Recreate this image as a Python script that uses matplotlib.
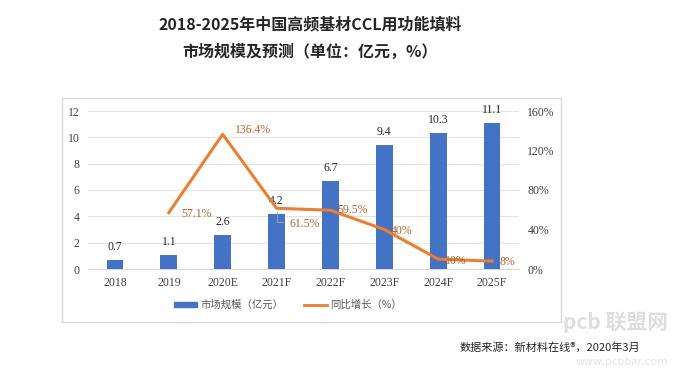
import matplotlib.pyplot as plt
from matplotlib.patches import Rectangle, Patch
from matplotlib.lines import Line2D

plt.rcParams['font.family'] = ['Noto Sans CJK SC', 'DejaVu Sans']

# Data
years = ['2018', '2019', '2020E', '2021F', '2022F', '2023F', '2024F', '2025F']
market = [0.7, 1.1, 2.6, 4.2, 6.7, 9.4, 10.3, 11.1]
growth = [None, 57.1, 136.4, 61.5, 59.5, 40, 10, 8]
growth_labels = ['', '57.1%', '136.4%', '61.5%', '59.5%', '40%', '10%', '8%']

W, H = 677, 371
fig = plt.figure(figsize=(W / 100, H / 100), dpi=100)

# chart frame
fig.patches.append(Rectangle((62 / W, 1 - 322 / H), (561 - 62) / W, (322 - 98) / H,
                             transform=fig.transFigure, fill=False,
                             edgecolor='#D9D9D9', linewidth=1))

ax = fig.add_axes([88 / W, 1 - 269 / H, (519 - 88) / W, (269 - 111) / H])
ax2 = ax.twinx()

x = list(range(len(years)))
serif = 'Liberation Serif'

ax.bar(x, market, width=0.31, color='#4472C4', zorder=3)
for xi, v in zip(x, market):
    ax.annotate(f'{v}', (xi, v), xytext=(0, 5), textcoords='offset points',
                ha='center', va='bottom', fontsize=8.5, family=serif, color='#262626')

ax.set_ylim(0, 12)
ax.set_yticks(range(0, 13, 2))
ax.set_xlim(-0.5, len(years) - 0.5)
ax.set_xticks(x)
ax.set_xticklabels(years, family=serif, fontsize=8.5, color='#404040')
ax.tick_params(axis='both', length=0, pad=6)
for lbl in ax.get_yticklabels():
    lbl.set_family(serif)
    lbl.set_fontsize(8.5)
    lbl.set_color('#404040')
ax.yaxis.grid(True, color='#E4E4E4', linewidth=0.8, zorder=0)
ax.set_axisbelow(True)
for s in ['top', 'right', 'left']:
    ax.spines[s].set_visible(False)
ax.spines['bottom'].set_color('#D9D9D9')

gx = [xi for xi, g in zip(x, growth) if g is not None]
gy = [g for g in growth if g is not None]
ax2.plot(gx, gy, color='#ED7D31', linewidth=2.2, zorder=4)
ax2.set_ylim(0, 160)
ax2.set_yticks(range(0, 161, 40))
ax2.set_yticklabels([f'{t}%' for t in range(0, 161, 40)], family=serif,
                    fontsize=8.5, color='#404040')
ax2.tick_params(axis='y', length=0, pad=6)
for s in ax2.spines.values():
    s.set_visible(False)

offsets = {1: (9, -1), 2: (9, 3), 3: (9, -11), 4: (5, 0), 5: (5, -1),
           6: (5, -1), 7: (5, -1)}
lab_color = '#B4612A'
for xi, g, t in zip(x, growth, growth_labels):
    if g is None:
        continue
    dx, dy = offsets[xi]
    ax2.annotate(t, (xi, g), xytext=(dx, dy), textcoords='offset points',
                 ha='left', va='center', fontsize=8.5, family=serif, color=lab_color,
                 zorder=5)
# leader line for 61.5%
ax2.annotate('', (3, 61.5), xytext=(3.17, 48), textcoords='data',
             arrowprops=dict(arrowstyle='-', color='#A6A6A6', linewidth=0.6,
                             connectionstyle='angle,angleA=0,angleB=90,rad=0'))

# titles
fig.text(310 / W, 1 - 24 / H, '2018-2025年中国高频基材CCL用功能填料',
         ha='center', va='center', fontsize=11.5, fontweight='bold', color='#262626')
fig.text(310 / W, 1 - 52 / H, '市场规模及预测（单位：亿元，%）',
         ha='center', va='center', fontsize=11.5, fontweight='bold', color='#262626')

# legend
handles = [Patch(color='#4472C4'), Line2D([0], [0], color='#ED7D31', linewidth=2)]
fig.legend(handles, ['市场规模（亿元）', '同比增长（%）'], ncol=2, frameon=False,
           loc='center', bbox_to_anchor=(288 / W, 1 - 305 / H), fontsize=7.5,
           labelcolor='#595959', handlelength=2.2, handleheight=0.4,
           columnspacing=2.0, handletextpad=0.3)

# source
fig.text(640 / W, 1 - 347 / H, '数据来源：新材料在线®，2020年3月', ha='right',
         va='center', fontsize=8, color='#262626')

# watermark
fig.text(668 / W, 1 - 322 / H, 'pcb 联盟网', ha='right', va='center',
         fontsize=15, fontweight='bold', color='#C8C8C8', alpha=0.6)
fig.text(668 / W, 1 - 362 / H, 'www.pcbbar.com', ha='right', va='center',
         fontsize=8, color='#C8C8C8', alpha=0.5)

fig.savefig('out.png', dpi=100)
